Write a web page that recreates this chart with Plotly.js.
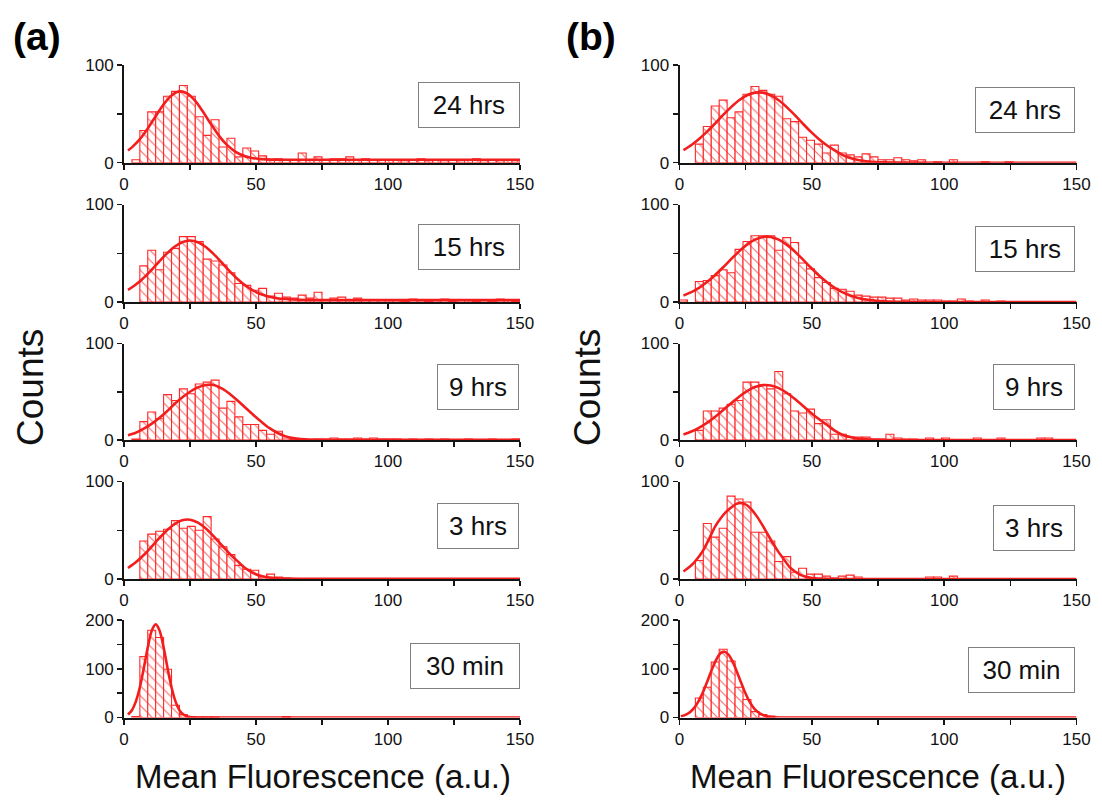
<!DOCTYPE html>
<html><head><meta charset="utf-8">
<script src="https://cdn.plot.ly/plotly-3.0.1.min.js"></script>
<style>html,body{margin:0;padding:0;background:#fff}#chart{width:1102px;height:803px}</style>
</head><body><div id="chart"></div>
<script>
// ---------- DATA ----------
// Histogram bins: width 3, from 0 to 150 (bin centers)
const BIN_CENTERS = [1.5,4.5,7.5,10.5,13.5,16.5,19.5,22.5,25.5,28.5,31.5,34.5,37.5,40.5,43.5,46.5,49.5,52.5,55.5,58.5,61.5,64.5,67.5,70.5,73.5,76.5,79.5,82.5,85.5,88.5,91.5,94.5,97.5,100.5,103.5,106.5,109.5,112.5,115.5,118.5,121.5,124.5,127.5,130.5,133.5,136.5,139.5,142.5,145.5,148.5];
const TIME_LABELS = ['24 hrs','15 hrs','9 hrs','3 hrs','30 min'];
const PANEL_LABELS = ['(a)','(b)'];
const X_TICKS = [0,25,50,75,100,125,150];
const X_TICKTEXT = ['0','','50','','100','','150'];
const Y_TICKS_100 = [0,50,100];
const Y_TICKTEXT_100 = ['0','','100'];
const Y_TICKS_200 = [0,50,100,150,200];
const Y_TICKTEXT_200 = ['0','','100','','200'];
const Y_TITLE = 'Counts';
const X_TITLE = 'Mean Fluorescence (a.u.)';

// Panel (a) counts
const countsA24 = [0,3,33,52,52,68,73,79,68,47,28,44,16,25,6,15,12,7,3,4,3,3,10,3,6,3,4,4,6,3,4,3,3,3,3,2,3,4,2,3,2,3,2,3,4,2,3,2,3,2];
const countsA15 = [0,0,37,53,33,51,55,67,67,62,44,42,38,30,19,17,12,14,6,9,5,4,7,4,10,2,4,5,2,4,2,2,2,2,2,1,3,2,1,2,3,1,2,2,1,2,1,3,2,1];
const countsA9  = [0,1,19,29,22,47,41,53,48,58,60,62,33,40,24,16,16,10,6,9,2,1,1,0,1,1,2,1,1,2,1,2,1,1,1,0,1,0,1,0,1,0,0,1,0,0,1,0,0,1];
const countsA3  = [0,0,39,46,49,51,60,52,54,50,64,41,33,25,14,10,9,2,5,2,1];
const countsA30 = [0,2,125,179,164,99,25,6,2,1,1,1,0,0,0,0,0,0,0,0,2];
// Panel (b) counts
const countsB24 = [0,0,19,37,58,64,46,52,70,78,74,70,68,45,42,26,23,19,10,18,10,8,6,9,6,3,3,5,3,2,3,0,1,0,3,0,0,0,1,0,0,1];
const countsB15 = [2,0,21,22,27,33,30,54,62,68,68,68,53,66,61,40,34,25,20,14,13,11,7,6,5,5,4,4,2,3,2,2,2,1,1,3,1,0,2,0,1];
const countsB9  = [0,0,10,30,30,33,37,41,60,60,57,53,71,48,30,28,32,17,21,6,6,3,3,3,1,1,6,2,1,1,0,2,0,2,0,0,0,2,0,0,2,0,0,0,0,2,2];
const countsB3  = [0,0,19,57,43,52,85,82,79,48,48,39,18,23,7,11,5,5,3,1,3,4,2,0,0,0,0,0,0,0,0,2,2,0,3];
const countsB30 = [0,0,40,62,114,140,116,62,37,12,6,3];

// Gaussian fit curves
const fitA24X = [1.5,3,6,9,12,15,18,21,24,27,30,33,36,39,42,45,48,51,54,57,60,70,90,120,150];
const fitA24Y = [12.5,15.7,24.1,35.1,47.6,59.7,68.8,73,70.8,63.3,51.8,39.2,27.5,18.2,11.6,7.4,5.1,3.9,3.4,3.1,3,3,3,3,3];
const fitA15X = [1.5,4,7,10,13,16,19,22,25,28,31,34,37,40,43,46,49,52,55,58,61,64,70,90,120,150];
const fitA15Y = [12.4,16.9,23.6,31.7,40.5,49.1,56.4,61.3,63,61.3,56.4,49.1,40.5,31.7,23.6,16.9,11.7,7.9,5.4,3.9,3,2.5,2.1,2,2,2];
const fitA9X  = [1.5,4,7,10,13,16,19,22,25,28,31,34,37,40,43,46,49,52,55,58,61,64,67,70,80,100,150];
const fitA9Y  = [5,7,11,16,22,29,37,44,50,54.5,57,57,53.5,48,41,33.5,26,19,12.5,7.5,4,2,1,0.5,0.3,0.3,0.3];
const fitA3X  = [1.5,4,7,10,13,16,19,22,25,28,31,34,37,40,43,46,49,52,55,58,61,70,100,150];
const fitA3Y  = [11.3,16.1,23.3,31.7,40.8,49.3,56.1,60.2,60.8,57.8,51.8,43.7,34.7,26,18.3,11,6,3,1.5,0.8,0.4,0.2,0.2,0.2];
const fitA30X = [1.5,3,4.5,6,7.5,9,10.5,12,13.5,15,16.5,18,19.5,21,22.5,24,25.5,27,30,40,150];
const fitA30Y = [6.1,15,33,62,101,144,178,191,178,144,101,62,33,15,6.1,2,0.6,0.1,0,0,0];
const fitB24X = [1.5,4.5,7.5,10.5,13.5,16.5,19.5,22.5,25.5,28.5,31.5,34.5,37.5,40.5,43.5,46.5,49.5,52.5,55.5,58.5,61.5,64.5,67.5,70.5,73.5,77,85,110,150];
const fitB24Y = [12.8,18.1,24.5,32,40.3,48.9,56.9,63.9,69,71.7,71.7,69,63.9,56.9,48.9,40.3,32,24.5,18.1,12.8,8,4.8,2.7,1.4,0.7,0.3,0.1,0,0];
const fitB15X = [1.5,4.5,7.5,10.5,13.5,16.5,19.5,22.5,25.5,28.5,31.5,34.5,37.5,40.5,43.5,46.5,49.5,52.5,55.5,58.5,61.5,64.5,67.5,70.5,73.5,77,82,110,150];
const fitB15Y = [6.7,10.1,14.8,20.7,27.7,35.6,43.9,51.9,58.8,63.9,66.7,66.7,63.9,58.8,51.9,43.9,35.6,27.7,20.7,14.8,10.1,6.7,4.2,2.5,1.5,0.7,0.3,0,0];
const fitB9X  = [1.5,4.5,7.5,10.5,13.5,16.5,19.5,22.5,25.5,28.5,31.5,34.5,37.5,40.5,43.5,46.5,49.5,52.5,55.5,58.5,61.5,64.5,67.5,70.5,75,85,110,150];
const fitB9Y  = [5.8,8.8,12.9,18,24.1,31,38.1,44.9,50.7,54.9,56.9,56.5,53.7,49,42.7,35.7,28.6,22,16.2,10,5.5,3,1.3,0.6,0.2,0,0,0];
const fitB3X  = [1.5,3.5,5.5,7.5,9.5,11.5,13.5,15.5,17.5,19.5,21.5,23.5,25.5,27.5,29.5,31.5,33.5,35.5,37.5,39.5,41.5,43.5,45.5,47.5,50,53,56,65,100,150];
const fitB3Y  = [7.7,11.7,16.9,23.5,32,43,54,62,68.5,73.3,77.1,78,75.6,70.5,63.2,54.4,45,35.7,27.3,20,12.5,8,4.5,2.5,1,0.5,0.2,0,0,0];
const fitB30X = [0.5,2,3.5,5,6.5,8,9.5,11,12.5,14,15.5,17,18.5,20,21.5,23,24.5,26,27.5,29,30.5,32,34,36,38,45,150];
const fitB30Y = [2.4,4.9,9.2,16.4,27,41.7,60.2,81.1,102,119.9,131.6,135,129.2,115.6,96.6,75.4,55,37.4,23.8,14.1,7.9,4.1,1.5,0.5,0.1,0,0];

// ---------- LAYOUT / STYLE ----------
const W = 1102, H = 803;
const FONT = 'Liberation Sans, Arial, sans-serif';
const RED = '#f21d1d';
const panels = [
  {counts:[countsA24,countsA15,countsA9,countsA3,countsA30],
   fx:[fitA24X,fitA15X,fitA9X,fitA3X,fitA30X], fy:[fitA24Y,fitA15Y,fitA9Y,fitA3Y,fitA30Y],
   xpx:[124,520],
   box:[[469,105,102],[469,247,102],[478,387,82],[478,526,82],[465,666,110]],
   ytitleX:31, xtitleX:323, labelX:37},
  {counts:[countsB24,countsB15,countsB9,countsB3,countsB30],
   fx:[fitB24X,fitB15X,fitB9X,fitB3X,fitB30X], fy:[fitB24Y,fitB15Y,fitB9Y,fitB3Y,fitB30Y],
   xpx:[679.5,1076.5],
   box:[[1025,110,100],[1025,249,100],[1034,387,82],[1034,528,82],[1021,670,107]],
   ytitleX:588, xtitleX:878, labelX:591}
];
const rowsPx = [[65,162.7],[204.5,302],[343.5,440],[481.5,579],[620,717.5]];

const traces = [];
const layout = {
  width: W, height: H,
  margin: {l:0, r:0, t:0, b:0},
  paper_bgcolor: '#fff', plot_bgcolor: 'rgba(0,0,0,0)',
  showlegend: false, barmode: 'overlay', bargap: 0,
  font: {family: FONT, color: '#111'},
  annotations: []
};

panels.forEach((P, p) => {
  for (let r = 0; r < 5; r++) {
    const idx = p*5 + r + 1;
    const sfx = idx === 1 ? '' : String(idx);
    const xs = [], ys = [];
    P.counts[r].forEach((c, i) => { if (c > 0) { xs.push(BIN_CENTERS[i]); ys.push(c); } });
    traces.push({
      type: 'bar', x: xs, y: ys, width: 3,
      xaxis: 'x'+sfx, yaxis: 'y'+sfx, hoverinfo: 'skip',
      marker: {
        color: '#fff',
        line: {color: '#ff2828', width: 1.1},
        pattern: {shape: '\\', fgcolor: '#f46a6a', bgcolor: '#fff', size: 7, solidity: 0.16, fillmode: 'replace'}
      }
    });
    traces.push({
      type: 'scatter', mode: 'lines', x: P.fx[r], y: P.fy[r],
      xaxis: 'x'+sfx, yaxis: 'y'+sfx, hoverinfo: 'skip',
      line: {color: RED, width: 2.6, shape: 'spline', smoothing: 0.8}
    });
    const big = r === 4;
    const axCommon = {
      showline: true, linecolor: '#151515', linewidth: 2,
      ticks: 'outside', ticklen: 5, tickwidth: 1.5, tickcolor: '#151515',
      showgrid: false, zeroline: false, fixedrange: true,
      tickfont: {family: FONT, size: 17, color: '#111'}
    };
    layout['xaxis'+sfx] = Object.assign({}, axCommon, {
      domain: [P.xpx[0]/W, P.xpx[1]/W], range: [0,150], anchor: 'y'+sfx,
      tickmode: 'array', tickvals: X_TICKS, ticktext: X_TICKTEXT
    });
    layout['yaxis'+sfx] = Object.assign({}, axCommon, {
      domain: [1 - rowsPx[r][1]/H, 1 - rowsPx[r][0]/H], range: [0, big ? 200 : 100], anchor: 'x'+sfx,
      tickmode: 'array', tickvals: big ? Y_TICKS_200 : Y_TICKS_100, ticktext: big ? Y_TICKTEXT_200 : Y_TICKTEXT_100
    });
    const b = P.box[r];
    layout.annotations.push({
      xref: 'paper', yref: 'paper', x: b[0]/W, y: 1 - b[1]/H, xanchor: 'center', yanchor: 'middle',
      text: TIME_LABELS[r], showarrow: false, font: {family: FONT, size: 26, color: '#111'},
      bordercolor: '#808080', borderwidth: 1, borderpad: 0, bgcolor: '#fff',
      width: b[2]-2, height: 44
    });
  }
  layout.annotations.push({
    xref: 'paper', yref: 'paper', x: P.ytitleX/W, y: 1 - 388/H, xanchor: 'center', yanchor: 'middle',
    text: Y_TITLE, textangle: -90, showarrow: false, font: {family: FONT, size: 37, color: '#111'}
  });
  layout.annotations.push({
    xref: 'paper', yref: 'paper', x: P.xtitleX/W, y: 1 - 776/H, xanchor: 'center', yanchor: 'middle',
    text: X_TITLE, showarrow: false, font: {family: FONT, size: 33, color: '#111'}
  });
  layout.annotations.push({
    xref: 'paper', yref: 'paper', x: P.labelX/W, y: 1 - 37/H, xanchor: 'center', yanchor: 'middle',
    text: '<b>' + PANEL_LABELS[p] + '</b>', showarrow: false, font: {family: FONT, size: 39, color: '#000'}
  });
});

Plotly.newPlot('chart', traces, layout, {staticPlot: true, displayModeBar: false});
</script>
</body></html>
